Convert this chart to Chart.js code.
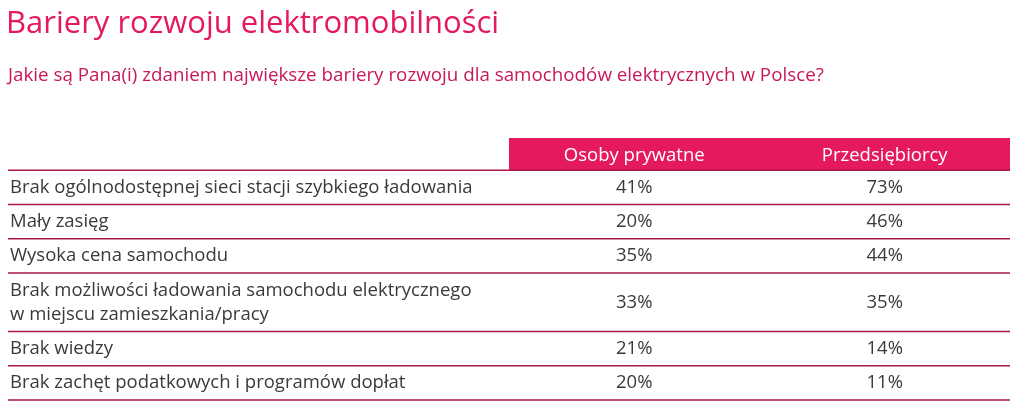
<!DOCTYPE html>
<html><head><meta charset="utf-8">
<script src="https://cdn.jsdelivr.net/npm/chart.js@4/dist/chart.umd.min.js"></script>
<style>html,body{margin:0;padding:0;background:#fff}#w{width:1024px;height:420px}</style>
</head><body><div id="w"><canvas id="c"></canvas></div>
<script>
const title = 'Bariery rozwoju elektromobilności';
const subtitle = 'Jakie są Pana(i) zdaniem największe bariery rozwoju dla samochodów elektrycznych w Polsce?';
const columns = ['Osoby prywatne', 'Przedsiębiorcy'];
const categories = [
  ['Brak ogólnodostępnej sieci stacji szybkiego ładowania'],
  ['Mały zasięg'],
  ['Wysoka cena samochodu'],
  ['Brak możliwości ładowania samochodu elektrycznego', 'w miejscu zamieszkania/pracy'],
  ['Brak wiedzy'],
  ['Brak zachęt podatkowych i programów dopłat']
];
const privateValues = [41, 20, 35, 33, 21, 20];
const businessValues = [73, 46, 44, 35, 14, 11];

const PINK = '#e5195f', LINE = '#a8174f', TXT = '#3a3a3a';
const FONT = '"Open Sans", Lato, sans-serif';
const HEADER_H = 32, ROW_BASE = 10, LINE_H = 24;
const bounds = [0, HEADER_H];
categories.forEach(c => bounds.push(bounds[bounds.length - 1] + ROW_BASE + LINE_H * c.length));
const total = bounds[bounds.length - 1];

const tablePlugin = {
  id: 'table',
  afterDraw(chart) {
    const ctx = chart.ctx, x = chart.scales.x, y = chart.scales.y;
    const px = v => x.getPixelForValue(v), py = v => y.getPixelForValue(v);
    ctx.save();
    ctx.textBaseline = 'middle';
    ctx.fillStyle = PINK;
    ctx.font = '31px ' + FONT;
    ctx.textAlign = 'left';
    ctx.fillText(title, 6, 24);
    ctx.font = '18.8px ' + FONT;
    ctx.fillStyle = '#c8185a';
    ctx.fillText(subtitle, 8, 76);
    ctx.fillStyle = PINK;
    ctx.fillRect(px(2), py(0), px(4) - px(2), py(HEADER_H) - py(0));
    ctx.fillStyle = '#fff';
    ctx.textAlign = 'center';
    ctx.font = '18.5px ' + FONT;
    columns.forEach((c, i) => ctx.fillText(c, px(2.5 + i), py(HEADER_H / 2) + 2));
    categories.forEach((cat, r) => {
      const top = bounds[r + 1], bot = bounds[r + 2];
      ctx.strokeStyle = LINE; ctx.lineWidth = 1.5;
      ctx.beginPath(); ctx.moveTo(px(0), py(top)); ctx.lineTo(px(4), py(top)); ctx.stroke();
      ctx.fillStyle = TXT; ctx.textAlign = 'left';
      const mid = (top + bot) / 2;
      cat.forEach((line, k) => {
        const off = (k - (cat.length - 1) / 2) * LINE_H;
        ctx.fillText(line, px(0) + 2, py(mid) + off);
      });
      ctx.textAlign = 'center';
      ctx.fillText(privateValues[r] + '%', px(2.5), py(mid));
      ctx.fillText(businessValues[r] + '%', px(3.5), py(mid));
    });
    ctx.beginPath(); ctx.moveTo(px(0), py(total)); ctx.lineTo(px(4), py(total)); ctx.stroke();
    ctx.restore();
  }
};

new Chart(document.getElementById('c'), {
  type: 'scatter',
  data: { datasets: [] },
  options: {
    responsive: true, maintainAspectRatio: false, animation: false,
    layout: { padding: { left: 8, right: 14, top: 138, bottom: 20 } },
    plugins: { legend: { display: false }, tooltip: { enabled: false } },
    scales: {
      x: { type: 'linear', min: 0, max: 4, display: false },
      y: { type: 'linear', min: 0, max: total, reverse: true, display: false }
    }
  },
  plugins: [tablePlugin]
});
</script></body></html>
